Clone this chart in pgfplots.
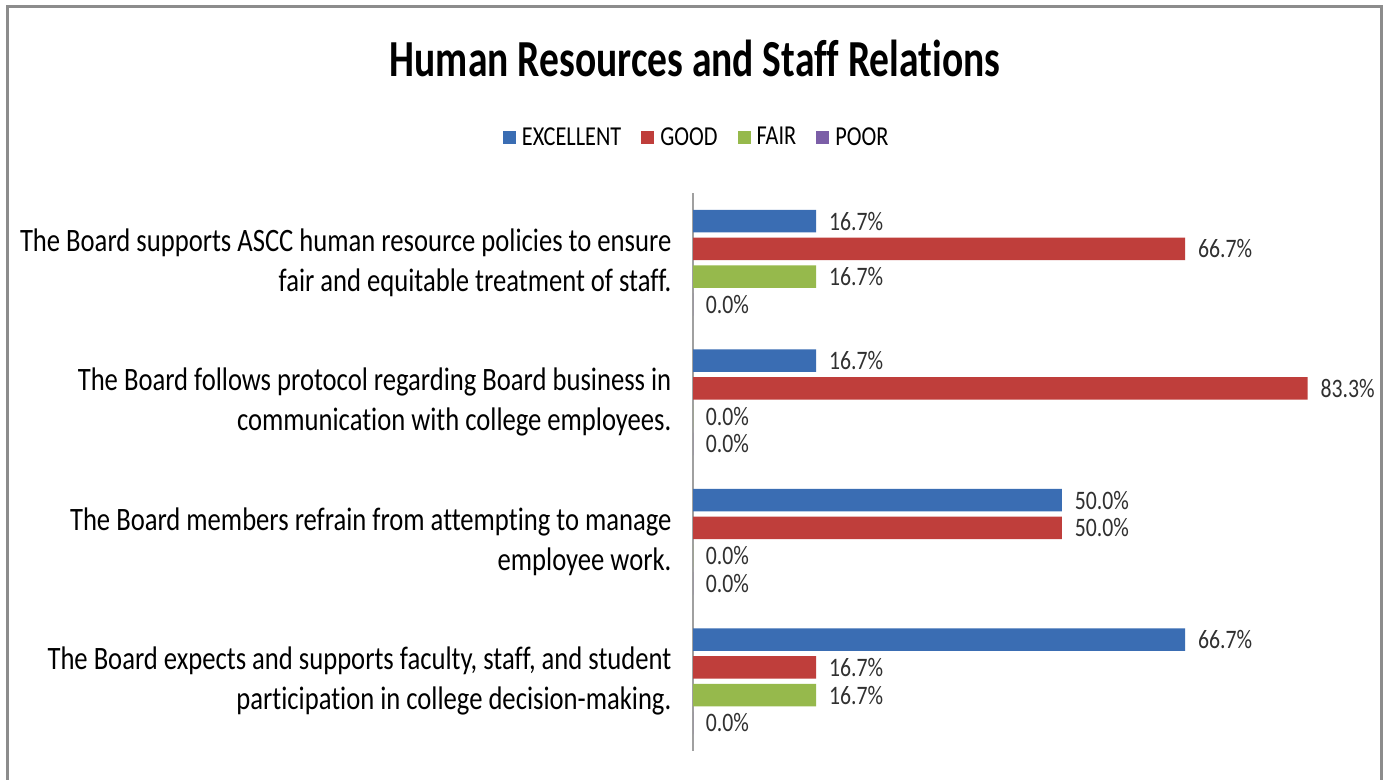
\documentclass[border=0pt]{standalone}
\usepackage{fontspec}
\setmainfont{Carlito}[FakeStretch=0.815, Ligatures=NoCommon]
\newfontfamily\titlefont{Carlito}[FakeStretch=0.76, Ligatures=NoCommon]
\usepackage{pgfplots}
\pgfplotsset{compat=1.18}
\definecolor{cBlue}{HTML}{3A6DB3}
\definecolor{cRed}{HTML}{BF3E3B}
\definecolor{cGreen}{HTML}{96B94C}
\definecolor{cPurple}{HTML}{7B5EA7}
\definecolor{frameGray}{HTML}{8C8C8C}
\definecolor{axisGray}{HTML}{A0A0A0}
\definecolor{lblGray}{HTML}{303030}
\begin{document}
\begin{tikzpicture}[x=1pt,y=1pt]
\useasboundingbox (0,0) rectangle (1040.25,585);
\fill[white] (0,0) rectangle (1040.25,585);
\draw[line width=2.25pt, color=frameGray] (5.25,-10) -- (5.25,579.75) -- (1035.75,579.75) -- (1035.75,-10);
\node[anchor=base, inner sep=0pt, font=\titlefont\fontsize{39pt}{45pt}\bfseries\selectfont] at (521.25,527.25) {Human Resources and Staff Relations};
\begin{axis}[
  at={(519.75pt,21.75pt)}, anchor=south west,
  scale only axis, width=498pt, height=418.5pt,
  xmin=0, xmax=90, ymin=-0.5, ymax=3.5,
  xbar, bar width=16.9pt,
  axis x line=none, axis y line*=left,
  y axis line style={color=axisGray, line width=1pt},
  ytick={0,1,2,3},
  yticklabels={{The Board expects and supports faculty, staff, and student\\participation in college decision-making.},
               {The Board members refrain from attempting to manage\\employee work.},
               {The Board follows protocol regarding Board business in\\communication with college employees.},
               {The Board supports ASCC human resource policies to ensure\\fair and equitable treatment of staff.}},
  major tick length=0pt,
  yticklabel style={align=right, font=\fontsize{24.5pt}{30pt}\selectfont, inner sep=0pt, xshift=-16pt, text=black},
  /pgf/number format/assume math mode=true,
  nodes near coords={\pgfmathprintnumber[fixed,fixed zerofill,precision=1]{\pgfplotspointmeta}\%},
  every node near coord/.append style={anchor=west, inner sep=0pt, xshift=9.5pt, font=\fontsize{20pt}{22pt}\selectfont, text=lblGray},
  legend style={at={(0.006,1.100)}, anchor=center, draw=none, fill=none,
    legend columns=4, font=\fontsize{20.5pt}{22pt}\selectfont,
    /tikz/every odd column/.append style={column sep=2.5pt},
    /tikz/every even column/.append style={column sep=13pt}},
  legend image code/.code={\fill[#1] (0pt,-4.9pt) rectangle (9.8pt,4.9pt);},
]
\addplot[fill=cBlue, draw=none, bar shift=31.2pt] coordinates {(16.7,3) (16.7,2) (50,1) (66.7,0)};
\addlegendentry{EXCELLENT}
\addplot[fill=cRed, draw=none, bar shift=10.4pt] coordinates {(66.7,3) (83.3,2) (50,1) (16.7,0)};
\addlegendentry{GOOD}
\addplot[fill=cGreen, draw=none, bar shift=-10.4pt] coordinates {(16.7,3) (0,2) (0,1) (16.7,0)};
\addlegendentry{FAIR}
\addplot[fill=cPurple, draw=none, bar shift=-31.2pt] coordinates {(0,3) (0,2) (0,1) (0,0)};
\addlegendentry{POOR}
\end{axis}
\end{tikzpicture}
\end{document}
